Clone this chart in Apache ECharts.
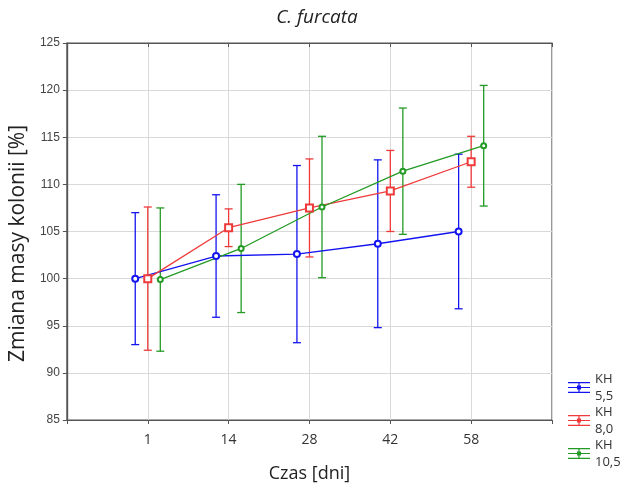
<!DOCTYPE html>
<html><head><meta charset="utf-8">
<script src="https://cdn.jsdelivr.net/npm/echarts@6/dist/echarts.min.js"></script>
<style>html,body{margin:0;padding:0;background:#fff}#c{width:628px;height:488px}</style>
</head><body><div id="c"></div>
<script>
const categories = ['1', '14', '28', '42', '58'];
const seriesNames = ['KH 5,5', 'KH 8,0', 'KH 10,5'];
const meanKH55 = [100.0, 102.4, 102.6, 103.7, 105.0];
const errKH55  = [7.0, 6.5, 9.4, 8.9, 8.2];
const meanKH80 = [100.0, 105.4, 107.5, 109.3, 112.4];
const errKH80  = [7.6, 2.0, 5.2, 4.3, 2.7];
const meanKH105 = [99.9, 103.2, 107.6, 111.4, 114.1];
const errKH105  = [7.6, 6.8, 7.5, 6.7, 6.4];

const means = [meanKH55, meanKH80, meanKH105];
const errs = [errKH55, errKH80, errKH105];
const colors = ['#1414f0', '#ee3a3a', '#239a23'];
const offsets = [-0.155, 0, 0.155];
const symbols = ['emptyCircle', 'emptyRect', 'emptyCircle'];
const symbolSizes = [6, 7, 5];
const FONT = '"Open Sans", "Noto Sans", sans-serif';

const chart = echarts.init(document.getElementById('c'), null, {renderer: 'canvas'});

const series = [];
seriesNames.forEach((name, s) => {
  series.push({
    name, type: 'custom', z: 2,
    data: means[s].map((m, i) => [i + 1 + offsets[s], m - errs[s][i], m + errs[s][i]]),
    encode: {x: 0, y: [1, 2]},
    renderItem: (params, api) => {
      const x = api.value(0);
      const lo = api.coord([x, api.value(1)]);
      const hi = api.coord([x, api.value(2)]);
      const st = {stroke: colors[s], lineWidth: 1.3};
      const w = 4;
      return {type: 'group', children: [
        {type: 'line', shape: {x1: lo[0], y1: lo[1], x2: hi[0], y2: hi[1]}, style: st},
        {type: 'line', shape: {x1: lo[0] - w, y1: lo[1], x2: lo[0] + w, y2: lo[1]}, style: st},
        {type: 'line', shape: {x1: hi[0] - w, y1: hi[1], x2: hi[0] + w, y2: hi[1]}, style: st}
      ]};
    }
  });
  series.push({
    name, type: 'line', z: 3,
    data: means[s].map((m, i) => [i + 1 + offsets[s], m]),
    symbol: symbols[s], symbolSize: symbolSizes[s],
    lineStyle: {color: colors[s], width: 1.3},
    itemStyle: {color: colors[s], borderWidth: 1.3},
    animation: false
  });
});

const iconPath = 'path://M0,0H22V1.2H0Z M0,9.8H22V11H0Z M0,4.9H22V6.1H0Z M10.4,0H11.6V11H10.4Z M9,3.5H13V7.5H9Z';

chart.setOption({
  animation: false,
  color: colors,
  title: {
    text: 'C. furcata', left: 312, top: 3, textAlign: 'center',
    textStyle: {fontFamily: FONT, fontStyle: 'italic', fontWeight: 'normal', fontSize: 19, color: '#222'}
  },
  grid: {left: 63, top: 43, right: 76, bottom: 68, show: true, borderColor: '#555', borderWidth: 1.2},
  legend: {
    orient: 'vertical', left: 563, top: 357, height: 200,
    itemWidth: 22, itemHeight: 11, itemGap: -18,
    icon: iconPath,
    data: seriesNames.map(n => ({name: n, icon: iconPath})),
    formatter: n => n.replace(' ', '\n'),
    textStyle: {fontFamily: FONT, fontSize: 13, color: '#333', lineHeight: 17, padding: [17, 0, 0, 0]}
  },
  xAxis: [{
    type: 'value', min: 0, max: 6, interval: 1,
    name: 'Czas [dni]', nameLocation: 'middle', nameGap: 45,
    nameTextStyle: {fontFamily: FONT, fontSize: 18, color: '#222'},
    axisLine: {show: true, lineStyle: {color: '#555', width: 1.2}},
    axisTick: {show: true, length: 4, lineStyle: {color: '#555'}},
    axisLabel: {fontFamily: FONT, fontSize: 14, color: '#333', margin: 13,
      formatter: v => (v >= 1 && v <= categories.length) ? categories[v - 1] : ''},
    splitLine: {show: true, lineStyle: {color: '#d9d9d9', width: 1}}
  }, {
    type: 'value', min: 0, max: 6, interval: 1, position: 'top',
    axisLine: {show: true, lineStyle: {color: '#555', width: 1.2}},
    axisTick: {show: true, inside: true, length: 4, lineStyle: {color: '#555'}},
    axisLabel: {show: false}, splitLine: {show: false}
  }],
  yAxis: [{
    type: 'value', min: 85, max: 125, interval: 5,
    name: 'Zmiana masy kolonii [%]', nameLocation: 'middle', nameGap: 27, nameRotate: 90,
    nameTextStyle: {fontFamily: FONT, fontSize: 21, color: '#222', padding: [0, 24, 0, 0]},
    axisLine: {show: true, lineStyle: {color: '#555', width: 1.2}},
    axisTick: {show: true, length: 4, lineStyle: {color: '#555'}},
    axisLabel: {fontFamily: '"Liberation Sans", Arial, sans-serif', fontSize: 12, color: '#444', margin: 7},
    splitLine: {show: true, lineStyle: {color: '#d9d9d9', width: 1}}
  }, {
    type: 'value', min: 85, max: 125, interval: 5, position: 'right',
    axisLine: {show: true, lineStyle: {color: '#555', width: 1.2}},
    axisTick: {show: true, inside: true, length: 4, lineStyle: {color: '#555'}},
    axisLabel: {show: false}, splitLine: {show: false}
  }],
  series
});
</script>
</body></html>
